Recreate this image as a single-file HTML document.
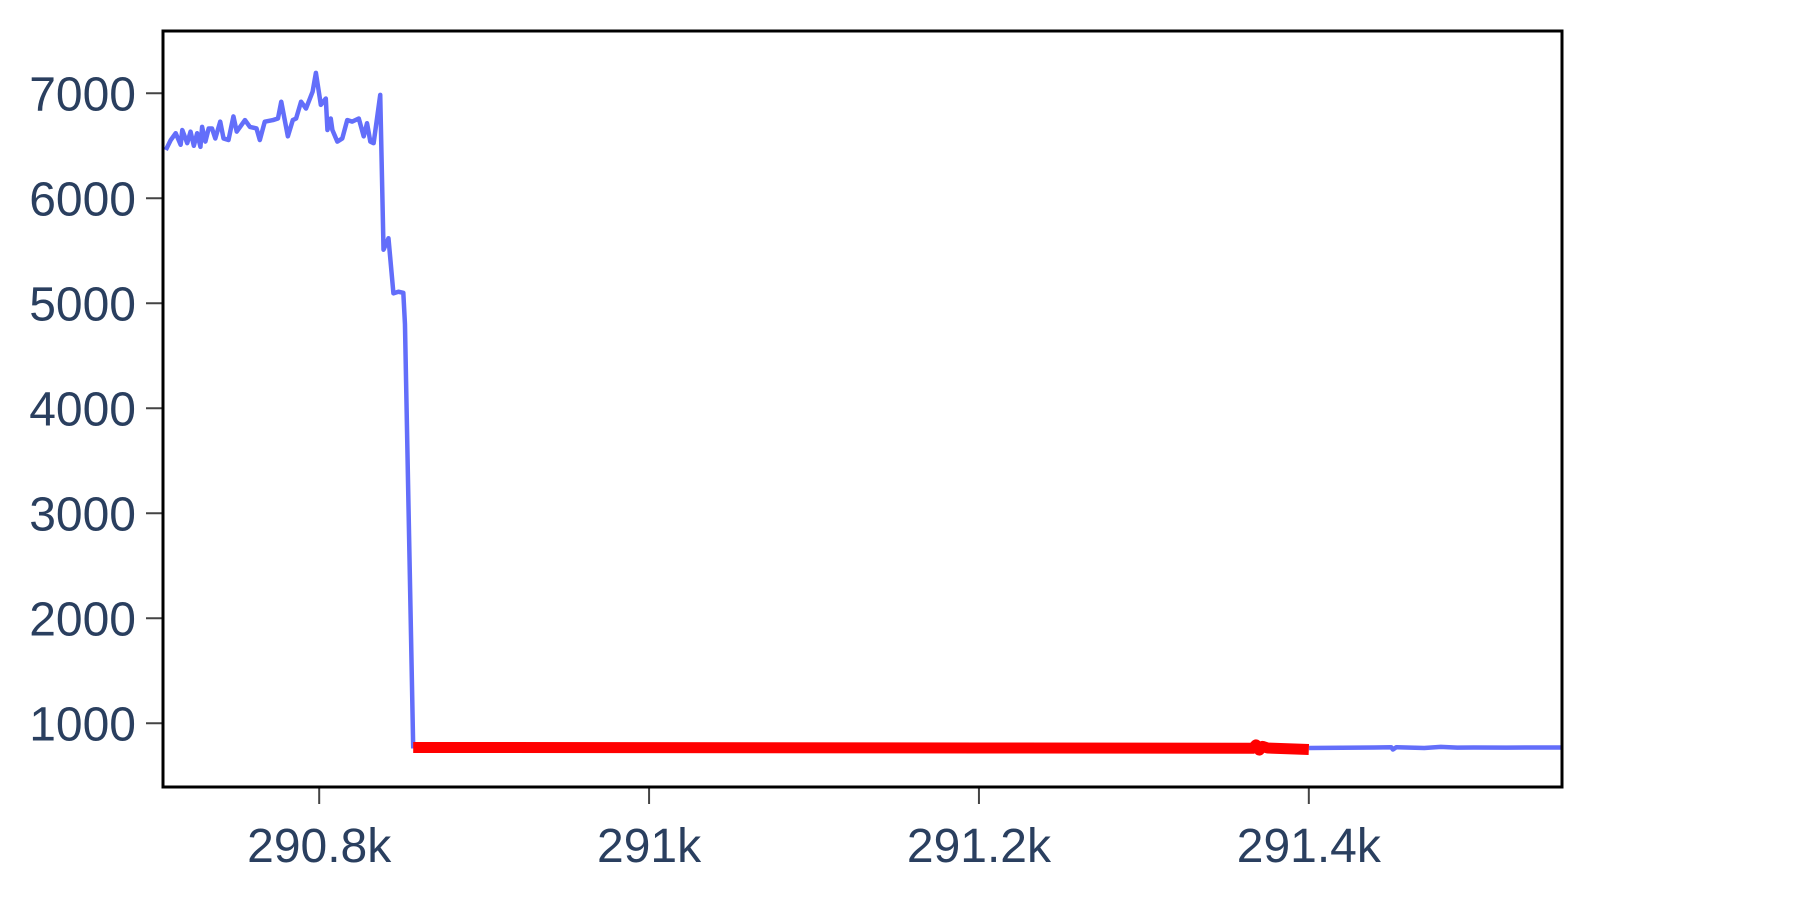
<!DOCTYPE html>
<html><head><meta charset="utf-8"><style>
html,body{margin:0;padding:0;background:#fff;width:1800px;height:900px;overflow:hidden}
svg text{font-family:"Liberation Sans",sans-serif;fill:#2a3f5f;font-size:48px}
</style></head><body>
<svg id="chart" width="1800" height="900" xmlns="http://www.w3.org/2000/svg">
<g id="grid"></g>
<g id="plot"></g>
<rect x="163" y="31" width="1399" height="756" fill="none" stroke="#000" stroke-width="3"/>
</svg>
<script>
const blueX1=[290707,290710,290713,290716,290717,290720,290722,290724,290726,290728,290729,290731,290733,290735,290737,290740,290742,290745,290748,290750,290755,290758,290762,290764,290767,290772,290775,290777,290781,290784,290786,290789,290792,290796,290798,290801,290804,290805,290807,290808,290811,290814,290817,290820,290824,290827,290829,290831,290833,290837,290839,290842,290845,290848,290851,290852,290857];
const blueY1=[6460,6555,6620,6510,6650,6525,6635,6500,6620,6490,6680,6540,6665,6665,6570,6730,6570,6555,6780,6635,6745,6680,6665,6555,6730,6745,6760,6920,6590,6745,6760,6920,6855,7015,7195,6890,6950,6650,6760,6650,6540,6570,6745,6730,6760,6590,6715,6540,6525,6985,5510,5620,5095,5110,5100,4800,760];
const redX=[290857,291000,291200,291366,291368,291370,291372,291375,291400];
const redY=[770,768,765,762,795,745,780,765,750];
const blueX2=[291400,291440,291450,291451,291453,291470,291480,291490,291500,291520,291540,291553];
const blueY2=[765,770,772,750,772,765,775,768,770,768,770,770];
const xTicks=[290800,291000,291200,291400];
const xTickLabels=["290.8k","291k","291.2k","291.4k"];
const yTicks=[1000,2000,3000,4000,5000,6000,7000];
const L=163,R=1562,T=31,B=787;
const x0=290705.3,x1=291553.5,y0=7000,yPx0=93.3,pxPer=0.105;
const sx=v=>L+(v-x0)/(x1-x0)*(R-L);
const sy=v=>yPx0+(y0-v)*pxPer;
const NS="http://www.w3.org/2000/svg";
const grid=document.getElementById('grid'),plot=document.getElementById('plot');
xTicks.forEach((t,i)=>{
  const l=document.createElementNS(NS,'line');
  
  
  l.setAttribute('x1',sx(t));l.setAttribute('x2',sx(t));l.setAttribute('y1',B);l.setAttribute('y2',B+17);
  l.setAttribute('stroke','#444');l.setAttribute('stroke-width','2');grid.appendChild(l);
  const tx=document.createElementNS(NS,'text');
  
  
  tx.setAttribute('x',sx(t));tx.setAttribute('y',862);tx.setAttribute('text-anchor','middle');
  tx.textContent=xTickLabels[i];grid.appendChild(tx);
});
yTicks.forEach(t=>{
  const l=document.createElementNS(NS,'line');
  
  
  l.setAttribute('x1',L-17);l.setAttribute('x2',L);l.setAttribute('y1',sy(t));l.setAttribute('y2',sy(t));
  l.setAttribute('stroke','#444');l.setAttribute('stroke-width','2');grid.appendChild(l);
  const tx=document.createElementNS(NS,'text');
  
  
  tx.setAttribute('x',L-27);tx.setAttribute('y',sy(t)+17);tx.setAttribute('text-anchor','end');
  tx.textContent=String(t);grid.appendChild(tx);
});
function line(xs,ys,color,w,name){
  const p=document.createElementNS(NS,'polyline');
  
  
  p.setAttribute('points',xs.map((x,i)=>sx(x)+','+sy(ys[i])).join(' '));
  p.setAttribute('fill','none');p.setAttribute('stroke',color);p.setAttribute('stroke-width',w);
  p.setAttribute('stroke-linejoin','round');
  plot.appendChild(p);
}
line(blueX1,blueY1,'#636efa',4.5,'blue-series-start');
line(blueX2,blueY2,'#636efa',4.5,'blue-series-end');
line(redX,redY,'#ff0000',11,'red-highlight-series');
</script>
</body></html>
